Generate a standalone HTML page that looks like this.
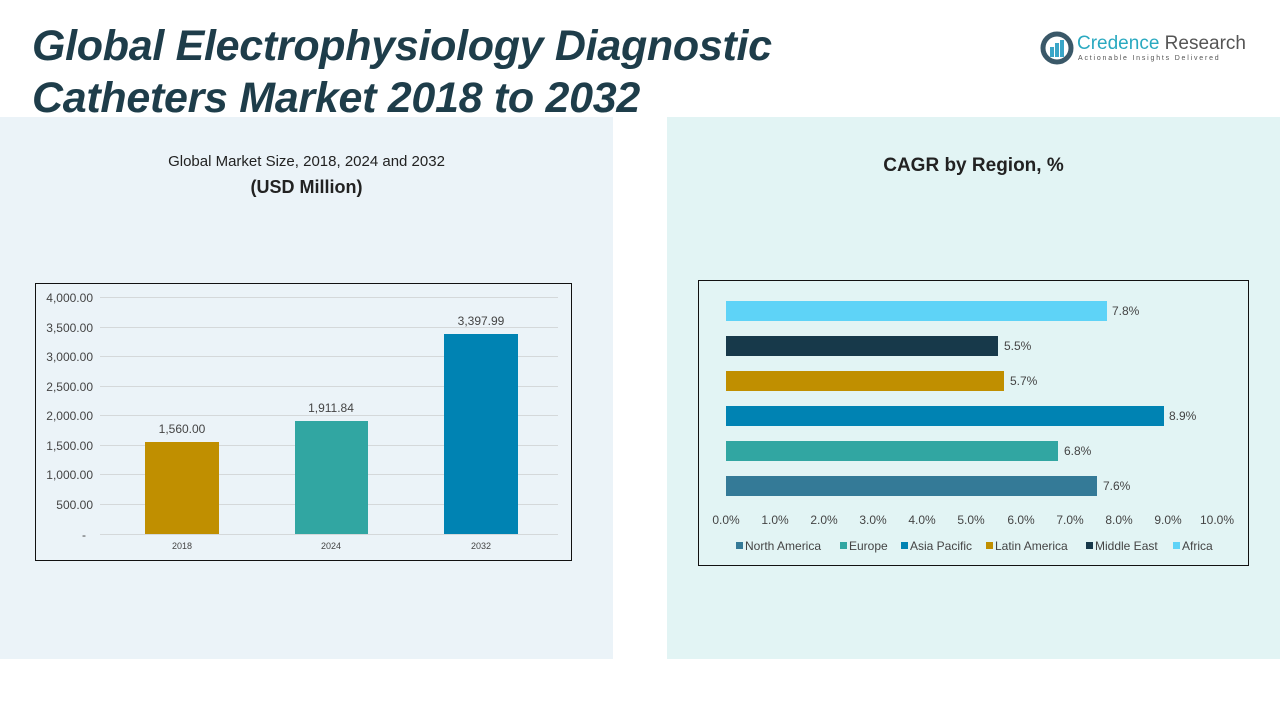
<!DOCTYPE html>
<html><head><meta charset="utf-8"><style>
body{margin:0;width:1280px;height:720px;background:#fff;position:relative;overflow:hidden;font-family:"Liberation Sans",sans-serif}
.abs{position:absolute}
.title{left:32px;top:20px;font-size:43px;font-weight:bold;font-style:italic;color:#1e3d4a;line-height:52px;letter-spacing:-0.3px}
</style></head><body>
<div class="abs" style="left:0;top:117px;width:613px;height:542px;background:#ebf3f8"></div>
<div class="abs" style="left:667px;top:117px;width:613px;height:542px;background:#e2f4f4"></div>
<div class="abs title">Global Electrophysiology Diagnostic<br>Catheters Market 2018 to 2032</div>
<svg class="abs" style="left:1040px;top:31px" width="34" height="34" viewBox="0 0 34 34">
<circle cx="17" cy="17" r="14" fill="none" stroke="#3a5868" stroke-width="5"/>
<rect x="10" y="16" width="4" height="10" fill="#3aa6c8"/><rect x="15" y="12" width="4" height="14" fill="#3aa6c8"/><rect x="20" y="9" width="4" height="17" fill="#3aa6c8"/>
</svg>
<div class="abs" style="left:1077px;top:33px;font-size:19px;color:#2aa9c0">Credence <span style="color:#555">Research</span></div>
<div class="abs" style="left:1078px;top:55px;font-size:7px;letter-spacing:1.8px;color:#555">Actionable Insights Delivered</div>
<div class="abs" style="left:0;width:613px;top:153px;text-align:center;font-size:15px;color:#222">Global Market Size, 2018, 2024 and 2032</div>
<div class="abs" style="left:0;width:613px;top:177px;text-align:center;font-size:18px;font-weight:bold;color:#222">(USD Million)</div>
<div class="abs" style="left:667px;width:613px;top:155px;text-align:center;font-size:19px;font-weight:bold;color:#222">CAGR by Region, %</div>
<svg class="abs" style="left:0;top:0" width="1280" height="720" font-family="Liberation Sans, sans-serif">
<rect x="35.5" y="283.5" width="536" height="277" fill="none" stroke="#111" stroke-width="1"/>
<g stroke="#d4d8da" stroke-width="1">
<line x1="100" x2="558" y1="297.5" y2="297.5"/><line x1="100" x2="558" y1="327.5" y2="327.5"/><line x1="100" x2="558" y1="356.5" y2="356.5"/><line x1="100" x2="558" y1="386.5" y2="386.5"/><line x1="100" x2="558" y1="415.5" y2="415.5"/><line x1="100" x2="558" y1="445.5" y2="445.5"/><line x1="100" x2="558" y1="474.5" y2="474.5"/><line x1="100" x2="558" y1="504.5" y2="504.5"/><line x1="100" x2="558" y1="534.5" y2="534.5"/>
</g>
<g font-size="12" fill="#444" text-anchor="end">
<text x="93" y="302">4,000.00</text><text x="93" y="332">3,500.00</text><text x="93" y="361">3,000.00</text><text x="93" y="391">2,500.00</text><text x="93" y="420">2,000.00</text><text x="93" y="450">1,500.00</text><text x="93" y="479">1,000.00</text><text x="93" y="509">500.00</text><text x="86" y="539">-</text>
</g>
<rect x="145" y="442" width="74" height="92" fill="#c08f00"/>
<rect x="295" y="421" width="73" height="113" fill="#31a6a2"/>
<rect x="444" y="334" width="74" height="200" fill="#0083b3"/>
<g font-size="12" fill="#444" text-anchor="middle">
<text x="182" y="433">1,560.00</text><text x="331" y="412">1,911.84</text><text x="481" y="325">3,397.99</text>
</g>
<g font-size="9" fill="#444" text-anchor="middle"><text x="182" y="549">2018</text><text x="331" y="549">2024</text><text x="481" y="549">2032</text></g>

<rect x="698.5" y="280.5" width="550" height="285" fill="none" stroke="#111" stroke-width="1"/>
<rect x="726" y="301" width="381" height="20" fill="#5ed3f7"/>
<rect x="726" y="336" width="272" height="20" fill="#17394a"/>
<rect x="726" y="371" width="278" height="20" fill="#c08f00"/>
<rect x="726" y="406" width="438" height="20" fill="#0083b3"/>
<rect x="726" y="441" width="332" height="20" fill="#31a6a2"/>
<rect x="726" y="476" width="371" height="20" fill="#347a97"/>
<g font-size="12" fill="#444">
<text x="1112" y="315">7.8%</text><text x="1004" y="350">5.5%</text><text x="1010" y="385">5.7%</text><text x="1169" y="420">8.9%</text><text x="1064" y="455">6.8%</text><text x="1103" y="490">7.6%</text>
</g>
<g font-size="12" fill="#444" text-anchor="middle">
<text x="726" y="524">0.0%</text><text x="775" y="524">1.0%</text><text x="824" y="524">2.0%</text><text x="873" y="524">3.0%</text><text x="922" y="524">4.0%</text><text x="971" y="524">5.0%</text><text x="1021" y="524">6.0%</text><text x="1070" y="524">7.0%</text><text x="1119" y="524">8.0%</text><text x="1168" y="524">9.0%</text><text x="1217" y="524">10.0%</text>
</g>
<g font-size="12" fill="#444">
<rect x="736" y="542" width="7" height="7" fill="#347a97"/><text x="745" y="550">North America</text>
<rect x="840" y="542" width="7" height="7" fill="#31a6a2"/><text x="849" y="550">Europe</text>
<rect x="901" y="542" width="7" height="7" fill="#0083b3"/><text x="910" y="550">Asia Pacific</text>
<rect x="986" y="542" width="7" height="7" fill="#c08f00"/><text x="995" y="550">Latin America</text>
<rect x="1086" y="542" width="7" height="7" fill="#17394a"/><text x="1095" y="550">Middle East</text>
<rect x="1173" y="542" width="7" height="7" fill="#5ed3f7"/><text x="1182" y="550">Africa</text>
</g>
</svg>
</body></html>
